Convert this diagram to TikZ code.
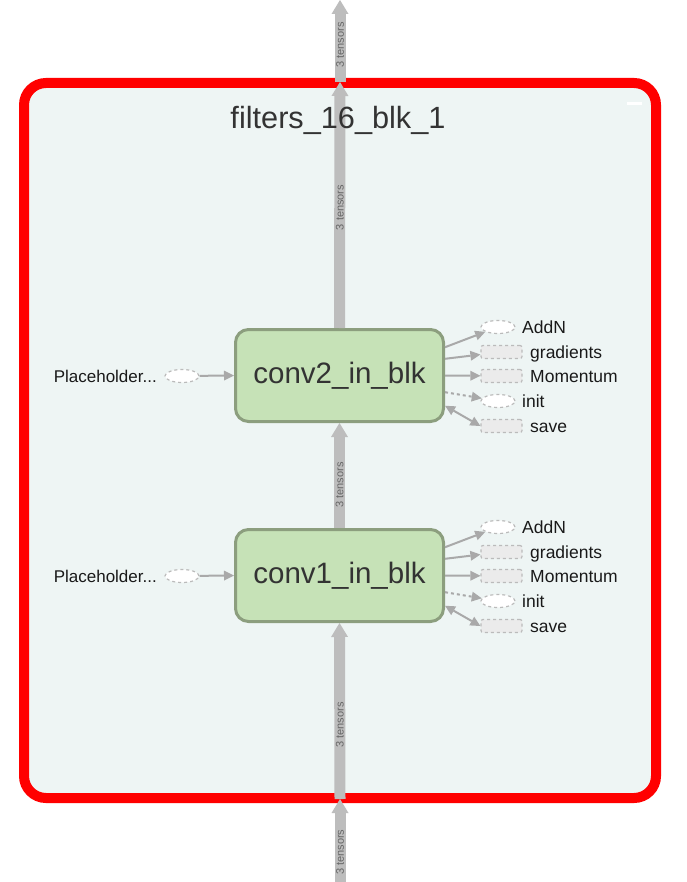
\documentclass[tikz,border=0pt]{standalone}
\usepackage{fontspec}
\setmainfont{Liberation Sans}
\usetikzlibrary{arrows.meta,shapes.geometric,calc}
\definecolor{framefill}{HTML}{EEF5F4}
\definecolor{convfill}{HTML}{C6E2B7}
\definecolor{convline}{HTML}{8C9E7E}
\definecolor{shaft}{HTML}{BDBDBD}
\definecolor{sgray}{HTML}{A9A9A9}
\definecolor{dline}{HTML}{BBBBBB}
\definecolor{rfill}{HTML}{EBEBEB}
\definecolor{ttext}{HTML}{333333}
\tikzset{
  conv/.style={draw=convline, fill=convfill, line width=3pt, rounded corners=13pt,
    minimum width=208pt, minimum height=92pt, inner sep=0pt,
    font=\fontsize{29.5}{31}\selectfont, text=ttext},
  mainarrow/.style={draw=shaft, line width=11pt,
    -{Triangle[width=17pt,length=14pt,line width=0pt]}},
  tlabel/.style={rotate=90, font=\fontsize{11}{12}\selectfont, text=black!60, inner sep=0pt},
  dell/.style={ellipse, draw=dline, dashed, fill=white, line width=1.2pt,
    minimum width=34pt, minimum height=13pt, inner sep=0pt},
  drect/.style={rectangle, rounded corners=2pt, draw=dline, dashed, fill=rfill, line width=1.2pt,
    minimum width=41pt, minimum height=13pt, inner sep=0pt},
  slabel/.style={font=\fontsize{17.5}{19}\selectfont, text=black!90, inner sep=0pt, anchor=base west},
  phlabel/.style={font=\fontsize{17}{19}\selectfont, text=black!90, inner sep=0pt, anchor=base east},
  tip/.tip={Triangle[width=10pt,length=10pt,line width=0pt]},
  sarrow/.style={draw=sgray, line width=2pt, -tip},
  titlestyle/.style={font=\fontsize{30.7}{33}\selectfont, text=ttext, inner sep=0pt}
}
\begin{document}
\begin{tikzpicture}[x=1pt,y=-1pt]
\useasboundingbox (0,0) rectangle (686,882);
\fill[white] (0,0) rectangle (686,882);
% frame
\draw[red, line width=10pt, fill=framefill, rounded corners=22pt] (24,83) rectangle (656,798);
\draw[white, line width=3pt] (627,104) -- (642,104);
% coordinates for main flow
\coordinate (ptop) at (340,0);
\coordinate (ftop) at (340,82);
\coordinate (fbot) at (340,799);
\coordinate (pbot) at (340,882);
% conv nodes
\node[conv] (c2) at (339.5,375.5) {conv2\_in\_blk};
\node[conv] (c1) at (339.5,575.5) {conv1\_in\_blk};
% main arrows
\draw[mainarrow] (pbot) -- node[tlabel, pos=0.36] {3 tensors} (fbot);
\draw[mainarrow] (fbot) -- node[tlabel, pos=0.42] {3 tensors} (c1.south);
\draw[mainarrow] (c1.north) -- node[tlabel, pos=0.41] {3 tensors} (c2.south);
\draw[mainarrow] (c2.north) -- node[tlabel, pos=0.49] {3 tensors} (ftop);
\draw[mainarrow] (ftop) -- node[tlabel, pos=0.45] {3 tensors} (ptop);
\node[titlestyle] (title) at (338,120) {filters\_16\_blk\_1};
% side nodes
\foreach \c/\o in {c2/0, c1/200} {
  \node[dell] (ph\c) at (182,{376+\o}) {};
  \node[phlabel] (phl\c) at (157,{382+\o}) {Placeholder...};
  \draw[sarrow] (ph\c) -- (\c.west);
  \node[dell] (add\c) at (498,{327+\o}) {};
  \node[drect] (grad\c) at (501.5,{352+\o}) {};
  \node[drect] (mom\c) at (501.5,{376+\o}) {};
  \node[dell] (init\c) at (498,{401+\o}) {};
  \node[drect] (save\c) at (501.5,{426+\o}) {};
  \node[slabel] (addl\c) at (522,{333+\o}) {AddN};
  \node[slabel] (gradl\c) at (530,{358+\o}) {gradients};
  \node[slabel] (moml\c) at (530,{382+\o}) {Momentum};
  \node[slabel] (initl\c) at (522,{407+\o}) {init};
  \node[slabel] (savel\c) at (530,{432+\o}) {save};
  \draw[sarrow] (\c.15) -- (add\c);
  \draw[sarrow] (\c.9) -- (grad\c);
  \draw[sarrow] (\c.east) -- (mom\c);
  \draw[sarrow, dash pattern=on 3pt off 3pt] (\c.-9) -- (init\c);
  \draw[draw=sgray, line width=2pt, tip-tip] (\c.-16) -- (save\c.west);
}
\end{tikzpicture}
\end{document}
